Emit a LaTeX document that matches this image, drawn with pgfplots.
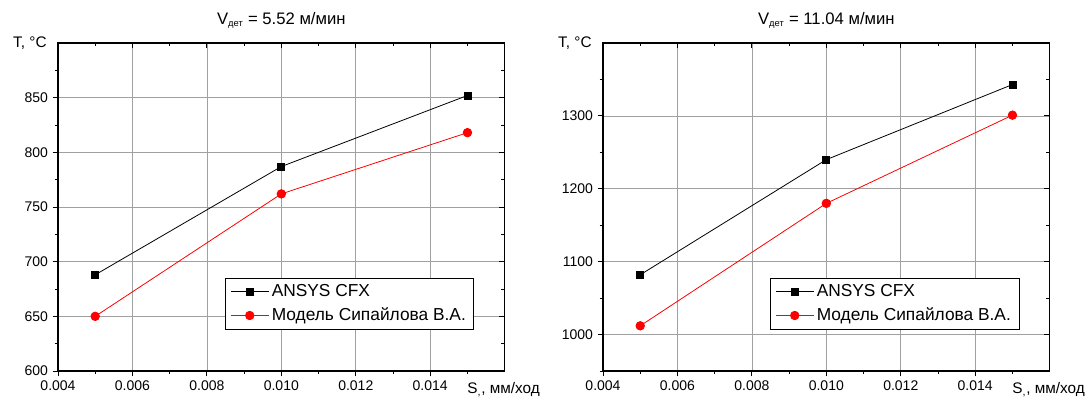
\documentclass[border=0pt]{standalone}
\usepackage{fontspec}
\setmainfont{Liberation Sans}
\usepackage{pgfplots}
\pgfplotsset{compat=1.18}

\definecolor{gridgray}{HTML}{A0A0A0}

\pgfplotstableread{
S      ansys  model
0.005  688    650
0.010  787    762
0.015  852    818
}\tabslow
\pgfplotstableread{
S      ansys  model
0.005  1082   1012
0.010  1240   1180
0.015  1343   1301
}\tabfast

\pgfplotsset{
  common/.style={
    scale only axis, width=335pt, height=246pt,
    xmin=0.004, xmax=0.016,
    xtick={0.004,0.006,...,0.0141},
    minor xtick={0.005,0.007,...,0.0151},
    scaled x ticks=false, scaled y ticks=false,
    major tick length=4pt, minor tick length=2.5pt,
    tick style={black, line width=0.6pt},
    axis line style={line width=0.9pt},
  },
  panel/.style={
    common,
    xticklabel style={/pgf/number format/.cd, fixed, fixed zerofill, precision=3},
    yticklabel style={/pgf/number format/.cd, 1000 sep={}},
    /pgf/number format/assume math mode=true,
    tick label style={font=\fontsize{10.5}{12}\selectfont},
    xmajorgrids, ymajorgrids,
    grid style={gridgray, line width=0.5pt},
    tick align=outside, xtick pos=bottom, ytick pos=left,
    legend style={at={(0.932,0.125)}, anchor=south east,
      font=\fontsize{13}{15}\selectfont, draw=black, line width=0.6pt,
      row sep=3pt, inner xsep=4pt, inner ysep=3pt},
    legend cell align=left,
    legend image code/.code={
      \draw[mark repeat=2, mark phase=2] plot coordinates {(0cm,0cm) (0.5cm,0cm) (1.0cm,0cm)};
    },
    clip=false,
  },
  mirror/.style={
    common,
    axis x line*=top, axis y line*=right,
    xticklabels={}, yticklabels={},
    tick align=inside,
  },
  sansys/.style={black, line width=0.6pt, mark=square*, mark size=2.6pt, mark options={solid}},
  smodel/.style={red, line width=0.6pt, mark=*, mark size=3.2pt, mark options={solid}},
}

\newcommand{\titlefont}{\fontsize{12.5}{14}\selectfont}
\newcommand{\labelfont}{\fontsize{11.5}{13}\selectfont}

\begin{document}
\begin{tikzpicture}
\useasboundingbox (-43.5pt,-21.75pt) rectangle (773.25pt,278.25pt);

% левая панель
\begin{axis}[panel,
  ymin=600, ymax=900,
  ytick={600,650,...,850}, minor ytick={625,675,...,875}]
  \addplot[sansys] table[x=S, y=ansys] {\tabslow};
  \addlegendentry{ANSYS CFX}
  \addplot[smodel] table[x=S, y=model] {\tabslow};
  \addlegendentry{Модель Сипайлова В.А.}
  \node[anchor=base, font=\titlefont] at ([yshift=14pt]rel axis cs:0.5,1) {V\textsubscript{\fontsize{7}{8}\selectfont дет} = 5.52 м/мин};
  \node[anchor=east, font=\labelfont] at ([xshift=-5pt]rel axis cs:0,1) {T, °C};
  \node[anchor=base west, font=\labelfont] at ([xshift=-31.5pt, yshift=-16.5pt]rel axis cs:1,0) {S\textsubscript{,}, мм/ход};
\end{axis}
\begin{axis}[mirror, ymin=600, ymax=900,
  ytick={600,650,...,850}, minor ytick={625,675,...,875}]
\end{axis}

% правая панель
\begin{axis}[panel, at={(408.75pt,0pt)},
  ymin=950, ymax=1400,
  ytick={1000,1100,...,1300}, minor ytick={950,1050,...,1350}]
  \addplot[sansys] table[x=S, y=ansys] {\tabfast};
  \addlegendentry{ANSYS CFX}
  \addplot[smodel] table[x=S, y=model] {\tabfast};
  \addlegendentry{Модель Сипайлова В.А.}
  \node[anchor=base, font=\titlefont] at ([yshift=14pt]rel axis cs:0.5,1) {V\textsubscript{\fontsize{7}{8}\selectfont дет} = 11.04 м/мин};
  \node[anchor=east, font=\labelfont] at ([xshift=-5pt]rel axis cs:0,1) {T, °C};
  \node[anchor=base west, font=\labelfont] at ([xshift=-31.5pt, yshift=-16.5pt]rel axis cs:1,0) {S\textsubscript{,}, мм/ход};
\end{axis}
\begin{axis}[mirror, at={(408.75pt,0pt)}, ymin=950, ymax=1400,
  ytick={1000,1100,...,1300}, minor ytick={950,1050,...,1350}]
\end{axis}
\end{tikzpicture}
\end{document}
